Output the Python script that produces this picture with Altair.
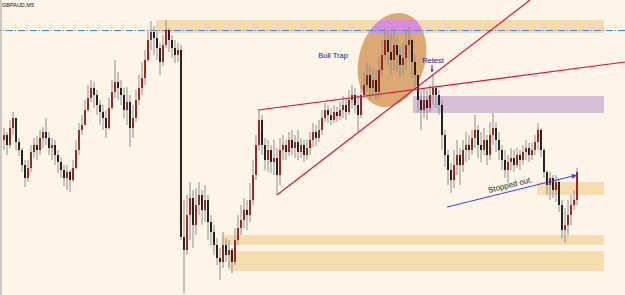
import altair as alt
import pandas as pd

# ---------------- data ----------------
REF_PRICE = 1.7800      # prices below are stored as pips under this level
PIP = 0.0001

first_open_pips = 140
close_pips = [135,145,128,118,142,150,165,178,168,152,145,150,138,132,138,148,145,155,162,170,
              178,172,180,168,150,130,125,110,98,88,95,105,112,118,128,108,92,82,88,95,
              110,102,128,118,100,88,78,60,40,32,38,48,62,45,30,40,48,55,50,237,
              250,215,198,225,205,195,210,200,222,232,245,258,262,245,255,250,262,240,228,220,
              210,215,200,175,145,120,145,160,150,162,158,175,150,145,152,140,148,142,152,145,
              155,148,140,132,138,130,118,110,115,120,112,116,110,105,112,100,95,105,115,95,
              85,75,88,80,92,70,55,40,52,60,45,55,65,58,45,40,62,75,100,110,
              100,108,95,88,95,105,135,155,170,180,165,155,165,150,145,150,138,130,145,150,
              140,155,135,128,140,150,160,170,162,158,165,155,160,152,148,155,150,142,130,150,
              172,185,178,190,182,205,230,225,215,205,200,172]
high_pips = [128,132,120,112,118,138,148,160,160,145,138,136,130,127,118,132,138,140,150,157,
             165,165,170,160,140,123,115,100,85,80,82,90,100,105,110,98,80,60,72,80,
             88,87,95,105,90,75,62,50,30,21,26,30,43,35,20,28,35,40,43,45,
             200,195,182,190,188,182,190,185,195,215,225,238,248,232,238,240,248,228,215,205,
             198,200,183,160,135,110,115,138,140,145,140,148,138,135,140,132,130,135,130,138,
             140,140,132,123,125,120,110,103,105,108,105,107,102,96,100,90,85,88,95,85,
             72,62,65,68,70,57,40,28,30,33,28,38,45,42,30,27,38,55,75,90,
             88,90,85,75,85,90,100,130,150,163,150,140,148,140,132,135,130,115,125,132,
             128,135,122,113,122,132,145,150,155,148,150,148,150,145,140,143,143,135,123,128,
             148,170,172,175,175,180,200,208,200,195,190,168]
low_pips = [150,155,148,135,150,156,172,187,182,172,158,160,155,148,145,155,160,165,173,178,
            186,190,192,182,170,155,135,125,112,102,108,115,125,130,138,130,110,98,100,105,
            118,125,147,138,122,105,95,85,62,50,55,60,75,66,48,52,58,63,62,240,
            293,255,240,248,235,215,225,222,240,245,255,265,280,268,262,268,273,265,245,235,
            228,230,222,205,180,150,155,170,172,173,175,195,185,160,160,156,155,158,160,158,
            162,160,155,147,146,142,135,122,123,125,123,122,120,118,120,115,108,113,132,118,
            98,92,100,95,100,98,75,60,65,75,70,72,77,75,70,60,78,90,112,130,
            118,120,112,105,108,115,150,167,185,193,188,175,185,172,162,160,155,148,158,162,
            155,165,160,145,152,160,170,178,183,170,172,168,170,165,160,162,160,155,150,157,
            178,195,200,198,202,212,238,243,235,225,210,205]

# zones (price boxes), from bar index to bar index
zone_start = [50.7, 72.6, 74.7, 177.7, 136.3]
zone_end = [200.0, 200.0, 200.0, 200.0, 200.0]
zone_top = [1.7780, 1.7565, 1.7549, 1.7618, 1.7704]
zone_bottom = [1.7767, 1.7555, 1.7529, 1.7605, 1.7687]
zone_kind = ["wheat", "wheat", "wheat", "wheat", "thistle"]

# trend lines
line_x1 = [84.67, 91.0]
line_y1 = [1.7690, 1.7605]
line_x2 = [207.0, 175.33]
line_y2 = [1.7738, 1.7800]

# "stopped out" arrow line
stop_x1, stop_y1 = 147.67, 1.7593
stop_x2, stop_y2 = 191.0, 1.7625

hline_price = 1.77695

# bull trap ellipse center and the part of it inside the top zone
trap_bar, trap_price = 129.33, 1.7740
cap_price = [1.7780, 1.77735, 1.7767]
cap_left = [125.5, 123.07, 121.47]
cap_right = [137.33, 138.83, 139.83]

# ---------------- tables ----------------
n = len(close_pips)
open_pips = [first_open_pips] + close_pips[:-1]
rows = []
for i in range(n):
    o, c = open_pips[i], close_pips[i]
    h = min(high_pips[i], o, c)
    l = max(low_pips[i], o, c)
    rows.append(dict(bar=i,
                     open=REF_PRICE - o * PIP, close=REF_PRICE - c * PIP,
                     high=REF_PRICE - h * PIP, low=REF_PRICE - l * PIP,
                     dir="up" if c < o else "down"))
candles = pd.DataFrame(rows)

zones = pd.DataFrame(dict(x=zone_start, x2=zone_end, y=zone_top, y2=zone_bottom, kind=zone_kind))
tlines = pd.DataFrame(dict(x=line_x1, y=line_y1, x2=line_x2, y2=line_y2))
stop = pd.DataFrame(dict(x=[stop_x1], y=[stop_y1], x2=[stop_x2], y2=[stop_y2]))
cap = pd.DataFrame(dict(p=cap_price, l=cap_left, r=cap_right))
trap = pd.DataFrame(dict(bar=[trap_bar], price=[trap_price]))

xs = alt.Scale(domain=[-4 / 3, 207.0], nice=False, zero=False)
ys = alt.Scale(domain=[1.7505, 1.7800], nice=False, zero=False)

def X(f):
    return alt.X(f, type="quantitative", scale=xs, axis=None)

def Y(f):
    return alt.Y(f, type="quantitative", scale=ys, axis=None)

zone_layer = alt.Chart(zones).mark_rect().encode(
    x=X("x"), x2="x2", y=Y("y"), y2="y2",
    color=alt.Color("kind:N", scale=alt.Scale(domain=["wheat", "thistle"],
                                              range=["#F5DDB0", "#D8BFD8"]), legend=None),
)

ellipse_path = ("M0,-1 C0.3797,-1 0.6875,-0.5523 0.6875,0 C0.6875,0.5523 0.3797,1 0,1 "
                "C-0.3797,1 -0.6875,0.5523 -0.6875,0 C-0.6875,-0.5523 -0.3797,-1 0,-1 Z")
ellipse = alt.Chart(trap).mark_point(shape=ellipse_path, size=9216, angle=16, filled=True,
                                     opacity=1, color="#DBAA74", strokeWidth=0).encode(
    x=X("bar"), y=Y("price"))

cap_layer = alt.Chart(cap).mark_area(orient="horizontal", color="#D68DE0", opacity=1).encode(
    y=Y("p"), x=X("l"), x2="r")

hline = alt.Chart(pd.DataFrame(dict(p=[hline_price]))).mark_rule(
    color="#3A8EEA", strokeWidth=1, strokeDash=[7, 2, 1, 2]).encode(y=Y("p"))

wicks = alt.Chart(candles).mark_rule(color="#8E8E8E", strokeWidth=1).encode(
    x=X("bar"), y=Y("high"), y2="low")

bodies = alt.Chart(candles).mark_rule(strokeWidth=1.8).encode(
    x=X("bar"), y=Y("open"), y2="close",
    color=alt.Color("dir:N", scale=alt.Scale(domain=["up", "down"], range=["#961818", "#121212"]),
                    legend=None))

trend = alt.Chart(tlines).mark_rule(color="#DC143C", strokeWidth=1.2, clip=True).encode(
    x=X("x"), y=Y("y"), x2="x2", y2="y2")

stop_line = alt.Chart(stop).mark_rule(color="#3C3CF2", strokeWidth=1).encode(
    x=X("x"), y=Y("y"), x2="x2", y2="y2")

arrow_head = alt.Chart(pd.DataFrame(dict(bar=[stop_x2 - 0.9], price=[stop_y2 - 0.00008]))).mark_point(
    shape="triangle-right", size=30, angle=346, filled=True, color="#3C3CF2", opacity=1).encode(
    x=X("bar"), y=Y("price"))

texts = pd.DataFrame(dict(bar=[109.67, 143.0], price=[1.7744, 1.7739], label=["Bull Trap", "Retest"]))
labels = alt.Chart(texts).mark_text(font="Liberation Sans", fontSize=7.5, color="#20208A",
                                    align="center", baseline="middle").encode(
    x=X("bar"), y=Y("price"), text="label:N")

stop_text = alt.Chart(pd.DataFrame(dict(bar=[168.8], price=[1.76145], label=["Stopped out."]))).mark_text(
    font="Liberation Sans", fontSize=8, color="#1E1E1E", angle=346,
    align="center", baseline="middle").encode(x=X("bar"), y=Y("price"), text="label:N")

down_arrow = alt.Chart(pd.DataFrame(dict(bar=[142.67], price=[1.7731]))).mark_point(
    shape="arrow", size=60, angle=180, filled=True, color="#2B3A9A", opacity=1).encode(
    x=X("bar"), y=Y("price"))

symbol_label = alt.Chart(pd.DataFrame(dict(t=["GBPAUD,M5"]))).mark_text(
    font="Liberation Sans", fontSize=5.5, color="#111111", align="left", baseline="middle").encode(
    x=alt.value(2), y=alt.value(5), text="t:N")

border = alt.Chart(pd.DataFrame(dict(a=[0]))).mark_rule(color="#9A9A9A", strokeWidth=1).encode(
    x=alt.value(1), y=alt.value(0), y2=alt.value(295))

chart = alt.layer(
    zone_layer, ellipse, cap_layer, hline, wicks, bodies, trend, stop_line, arrow_head,
    labels, stop_text, down_arrow, symbol_label, border
).resolve_scale(color="independent").properties(
    width=625, height=295, padding=0, autosize="none", background="#FDF6E8"
).configure_view(stroke=None)

chart.save("out.html", embed_options={"renderer": "svg", "actions": False})
